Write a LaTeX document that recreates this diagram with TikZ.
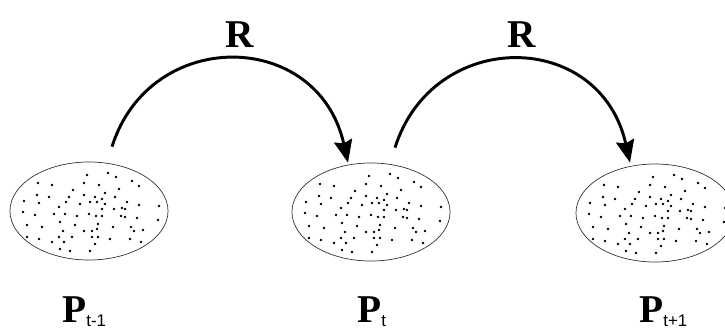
\documentclass[tikz,border=0pt]{standalone}
\usepackage{fontspec}
\setmainfont{Liberation Serif}
\newfontfamily\subfont{Liberation Sans}
\usetikzlibrary{arrows.meta,shapes.geometric}
\newcommand{\poplabel}[1]{\textbf{P}\raisebox{-3pt}{\subfont\fontsize{12}{14}\selectfont #1}}
\begin{document}
\begin{tikzpicture}[x=0.025cm,y=-0.025cm,
    pop/.style={draw=black!80,line width=0.5pt,ellipse,minimum width=3.95cm,minimum height=2.45cm,inner sep=0pt},
    rlbl/.style={anchor=base,font=\fontsize{28}{30}\selectfont\bfseries,inner sep=0pt},
    plbl/.style={anchor=base west,font=\fontsize{28}{30}\selectfont,inner sep=0pt},
    rarrow/.style={line width=2.1pt,-{Stealth[length=16pt,width=13pt,inset=2pt]}},
    dots/.pic={
      \foreach \dx/\dy in {-2/-36,19/-38,27/-34,-51/-28,-37/-26,-5/-28,10/-26,43/-30,50/-25,
        -16/-21,30/-22,-52/-16,-40/-14,-20/-14,-5/-16,6/-14,16/-18,26/-14,-65/-10,-50/-8,
        -23/-9,-9/-7,1/-9,8/-9,13/-12,16/-7,38/-9,50/-6,70/-5,-30/-4,13/-2,25/-2,33/-3,36/-2,
        -66/1,-54/4,-35/3,-24/3,-12/5,0/3,7/5,13/5,32/5,36/6,48/7,-29/11,-14/14,9/13,24/16,
        42/16,69/9,-62/14,-47/16,8/18,45/20,54/19,-26/20,-5/20,3/20,-62/26,-50/28,-37/31,
        -30/26,-25/31,-17/26,3/26,9/26,21/28,41/28,52/31,-29/38,-19/40,1/40,6/33} {
        \fill (\dx,\dy) circle (1pt);
      }
    }]
  \useasboundingbox (0,0) rectangle (725,331);
  \node[pop] (pa) at (89,211) {};
  \node[pop] (pb) at (371,212) {};
  \node[pop] (pc) at (655,213) {};
  \pic at (pa) {dots};
  \pic at (pb) {dots};
  \pic at (pc) {dots};
  \node[plbl] (la) at (62,322) {\poplabel{t-1}};
  \node[plbl] (lb) at (357,322) {\poplabel{t}};
  \node[plbl] (lc) at (639,322) {\poplabel{t+1}};
  \draw[rarrow] ([shift={(23,-15)}]pa.north) .. controls +(38,-120) and +(-30,-134) .. ([shift={(-23,0)}]pb.north);
  \draw[rarrow] ([shift={(24,-15)}]pb.north) .. controls +(38,-120) and +(-30,-134) .. ([shift={(-25,-1)}]pc.north);
  \node[rlbl] (ra) at (240,47) {R};
  \node[rlbl] (rb) at (522,47) {R};
\end{tikzpicture}
\end{document}
